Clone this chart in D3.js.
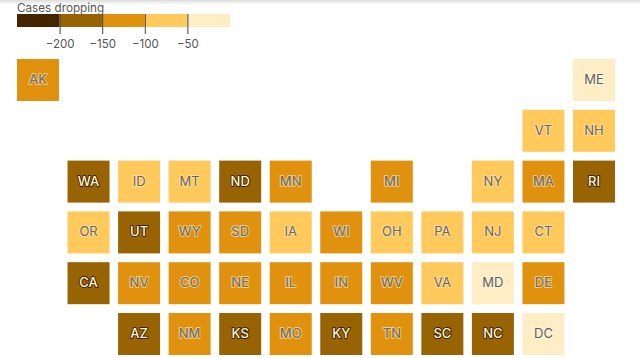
<!DOCTYPE html>
<html>
<head>
<meta charset="utf-8">
<script src="https://cdn.jsdelivr.net/npm/d3@7"></script>
<style>
  html, body { margin: 0; padding: 0; background: #fff; overflow: hidden; }
  svg { display: block; font-family: Inter, "Liberation Sans", sans-serif; }
</style>
</head>
<body>
<div id="chart"></div>
<script>
const width = 640;
const height = 358;

// ============================
// Data (values are the middle of each colour bin)
// ============================
const tileRows = [
  ["AK", "", "", "", "", "", "", "", "", "", "", "ME"],
  ["", "", "", "", "", "", "", "", "", "", "VT", "NH"],
  ["", "WA", "ID", "MT", "ND", "MN", "", "MI", "", "NY", "MA", "RI"],
  ["", "OR", "UT", "WY", "SD", "IA", "WI", "OH", "PA", "NJ", "CT", ""],
  ["", "CA", "NV", "CO", "NE", "IL", "IN", "WV", "VA", "MD", "DE", ""],
  ["", "", "AZ", "NM", "KS", "MO", "KY", "TN", "SC", "NC", "DC", ""]
];
const stateNames = ["AK", "ME", "VT", "NH", "WA", "ID", "MT", "ND", "MN", "MI", "NY", "MA", "RI",
  "OR", "UT", "WY", "SD", "IA", "WI", "OH", "PA", "NJ", "CT",
  "CA", "NV", "CO", "NE", "IL", "IN", "WV", "VA", "MD", "DE",
  "AZ", "NM", "KS", "MO", "KY", "TN", "SC", "NC", "DC"];
const stateValues = [-125, -25, -75, -75, -175, -75, -75, -175, -125, -125, -75, -125, -175,
  -75, -175, -125, -125, -75, -125, -75, -75, -75, -75,
  -175, -125, -125, -125, -125, -125, -125, -75, -25, -125,
  -175, -125, -175, -125, -175, -125, -175, -175, -25];

const legendTicks = [-200, -150, -100, -50];
const binColors = ["#452400", "#976303", "#e0920f", "#ffc95c", "#ffeec5"];
const labelColors = ["#fff6dc", "#fff6dc", "#777064", "#6a655e", "#5f5d5a"];
const haloColors = ["#3a2000", "#3a2000", "#f5cf88", "#ffe0a0", "#fff6e0"];
const labelWeights = [500, 500, 500, 400, 400];

// ============================
// Scales
// ============================
const color = d3.scaleThreshold().domain(legendTicks).range(binColors);
const labelColor = d3.scaleThreshold().domain(legendTicks).range(labelColors);
const haloColor = d3.scaleThreshold().domain(legendTicks).range(haloColors);
const labelWeight = d3.scaleThreshold().domain(legendTicks).range(labelWeights);

const legendX = d3.scaleLinear().domain([-250, 0]).range([17, 230]);
const colX = d3.scaleLinear().domain([0, 11]).range([17, 573]);
const rowY = d3.scaleLinear().domain([0, 5]).range([59, 313]);
const tileSize = 42;

const tiles = [];
tileRows.forEach((row, r) => row.forEach((name, c) => {
  if (name) tiles.push({ name: name, row: r, col: c, value: stateValues[stateNames.indexOf(name)] });
}));

const svg = d3.select("#chart").append("svg").attr("width", width).attr("height", height);

// faint shadow along the top edge
const grad = svg.append("defs").append("linearGradient")
  .attr("id", "topShade").attr("x1", 0).attr("x2", 0).attr("y1", 0).attr("y2", 1);
grad.append("stop").attr("offset", 0).attr("stop-color", "#dcdcdc");
grad.append("stop").attr("offset", 1).attr("stop-color", "#fff");
svg.append("rect").attr("width", width).attr("height", 5).attr("fill", "url(#topShade)");

// ============================
// Legend
// ============================
svg.append("text")
  .attr("x", 17).attr("y", 12)
  .attr("font-size", 11.7).attr("fill", "#555")
  .text("Cases dropping");

const legendEdges = [-250, ...legendTicks, 0];
svg.append("g").selectAll("rect")
  .data(binColors)
  .join("rect")
  .attr("x", (d, i) => legendX(legendEdges[i]))
  .attr("y", 14)
  .attr("width", (d, i) => legendX(legendEdges[i + 1]) - legendX(legendEdges[i]))
  .attr("height", 13)
  .attr("fill", d => d);

const legendAxis = svg.append("g")
  .attr("transform", "translate(0,27)")
  .call(d3.axisBottom(legendX).tickValues(legendTicks).tickSize(7).tickPadding(6)
    .tickFormat(d => "\u2212" + Math.abs(d)));
legendAxis.select(".domain").remove();
legendAxis.selectAll("line").attr("y1", -13).attr("stroke", "#444").attr("stroke-width", 1);
legendAxis.selectAll("text")
  .attr("font-family", "Inter, 'Liberation Sans', sans-serif")
  .attr("font-size", 11.5).attr("fill", "#555");

// ============================
// Tile grid
// ============================
const tile = svg.append("g").selectAll("g")
  .data(tiles)
  .join("g")
  .attr("transform", d => `translate(${colX(d.col)},${rowY(d.row)})`);

tile.append("rect")
  .attr("width", tileSize).attr("height", tileSize)
  .attr("fill", d => color(d.value));

tile.append("text")
  .attr("x", tileSize / 2).attr("y", tileSize / 2 + 4)
  .attr("text-anchor", "middle")
  .attr("font-size", 13)
  .attr("font-weight", d => labelWeight(d.value))
  .attr("paint-order", "stroke")
  .attr("stroke", d => haloColor(d.value))
  .attr("stroke-width", 1.8)
  .attr("stroke-linejoin", "round")
  .attr("fill", d => labelColor(d.value))
  .text(d => d.name);
</script>
</body>
</html>
